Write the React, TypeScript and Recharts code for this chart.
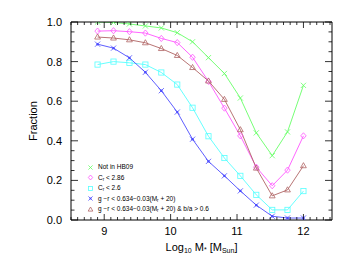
import * as React from 'react';
import { LineChart, Line, XAxis, YAxis, Legend } from 'recharts';

// stellar mass bins (Log10 M*)
const massBins = [8.9, 9.14, 9.38, 9.62, 9.86, 10.1, 10.33, 10.57, 10.81, 11.05, 11.29, 11.53, 11.76, 12.0];

const notInHB09 = [1.0, 0.998, 0.99, 0.98, 0.97, 0.946, 0.9, 0.82, 0.74, 0.616, 0.44, 0.325, 0.445, 0.68];
const crLt286 = [0.954, 0.956, 0.951, 0.944, 0.917, 0.896, 0.822, 0.7, 0.565, 0.425, 0.267, 0.173, 0.252, 0.425];
const crLt26 = [0.785, 0.8, 0.794, 0.785, 0.745, 0.684, 0.567, 0.423, 0.313, 0.223, 0.127, 0.051, 0.051, 0.146];
const grCut = [0.888, 0.868, 0.819, 0.746, 0.653, 0.545, 0.408, 0.296, 0.223, 0.147, 0.075, 0.019, 0.01, 0.01];
const grCutBa = [0.924, 0.919, 0.91, 0.895, 0.866, 0.831, 0.77, 0.702, 0.609, 0.456, 0.262, 0.122, 0.152, 0.274];

const xMajorTicks = [9, 10, 11, 12];
const yMajorTicks = [0, 0.2, 0.4, 0.6, 0.8, 1.0];

const xMinorTicks: number[] = [];
for (let i = 85; i <= 124; i++) xMinorTicks.push(i / 10);
const yMinorTicks: number[] = [];
for (let i = 0; i <= 20; i++) yMinorTicks.push(i / 20);

const FONT = '"Liberation Sans", Arial, sans-serif';

type MarkerKind = 'cross' | 'diamond' | 'square' | 'asterisk' | 'triangle';

const series: { key: string; values: number[]; color: string; marker: MarkerKind }[] = [
  { key: 'notHB09', values: notInHB09, color: '#66ff66', marker: 'cross' },
  { key: 'cr286', values: crLt286, color: '#ff55ff', marker: 'diamond' },
  { key: 'cr26', values: crLt26, color: '#55ffff', marker: 'square' },
  { key: 'gr', values: grCut, color: '#4c4cff', marker: 'asterisk' },
  { key: 'grba', values: grCutBa, color: '#b06464', marker: 'triangle' },
];

const data = massBins.map((m, i) => {
  const row: Record<string, number> = { mass: m };
  series.forEach((s) => (row[s.key] = s.values[i]));
  return row;
});

function Marker({ kind, cx, cy, color, k = 1 }: { kind: MarkerKind; cx: number; cy: number; color: string; k?: number }) {
  const s = 2.6 * k;
  const p = { stroke: color, strokeWidth: 0.8, fill: 'none' };
  if (kind === 'cross')
    return (
      <g {...p}>
        <line x1={cx - s} y1={cy - s} x2={cx + s} y2={cy + s} />
        <line x1={cx - s} y1={cy + s} x2={cx + s} y2={cy - s} />
      </g>
    );
  if (kind === 'diamond')
    return <polygon {...p} points={`${cx},${cy - 3.1 * k} ${cx + 2.7 * k},${cy} ${cx},${cy + 3.1 * k} ${cx - 2.7 * k},${cy}`} />;
  if (kind === 'square') return <rect {...p} x={cx - s} y={cy - s} width={2 * s} height={2 * s} />;
  if (kind === 'triangle')
    return (
      <polygon
        {...p}
        points={`${cx},${cy - 3.1 * k} ${cx + 2.9 * k},${cy + 2 * k} ${cx - 2.9 * k},${cy + 2 * k}`}
      />
    );
  return (
    <g {...p}>
      <line x1={cx - s} y1={cy - s} x2={cx + s} y2={cy + s} />
      <line x1={cx - s} y1={cy + s} x2={cx + s} y2={cy - s} />
      <circle cx={cx} cy={cy} r={1.2 * k} fill={color} stroke="none" />
    </g>
  );
}

const isMajorX = (v: number) => xMajorTicks.some((t) => Math.abs(t - v) < 1e-6);
const isMajorY = (v: number) => yMajorTicks.some((t) => Math.abs(t - v) < 1e-6);

// ticks point inward, like the IDL plot
const BottomTick = (props: any) => {
  const { x, y, payload } = props;
  const major = isMajorX(payload.value);
  return (
    <g>
      <line x1={x} x2={x} y1={y} y2={y - (major ? 6 : 3)} stroke="#000" strokeWidth={0.8} />
      {major && (
        <text x={x} y={y + 15} textAnchor="middle" fontSize={11} fontFamily={FONT} fill="#000">
          {Math.round(payload.value)}
        </text>
      )}
    </g>
  );
};

const TopTick = (props: any) => {
  const { x, y, payload } = props;
  const major = isMajorX(payload.value);
  return <line x1={x} x2={x} y1={y} y2={y + (major ? 6 : 3)} stroke="#000" strokeWidth={0.8} />;
};

const LeftTick = (props: any) => {
  const { x, y, payload } = props;
  const major = isMajorY(payload.value);
  return (
    <g>
      <line x1={x} x2={x + (major ? 7 : 3.5)} y1={y} y2={y} stroke="#000" strokeWidth={0.8} />
      {major && (
        <text x={x - 9} y={y + 4} textAnchor="end" fontSize={11} fontFamily={FONT} fill="#000">
          {payload.value.toFixed(1)}
        </text>
      )}
    </g>
  );
};

const RightTick = (props: any) => {
  const { x, y, payload } = props;
  const major = isMajorY(payload.value);
  return <line x1={x} x2={x - (major ? 7 : 3.5)} y1={y} y2={y} stroke="#000" strokeWidth={0.8} />;
};

const legendLabels: Record<string, React.ReactNode> = {
  notHB09: 'Not in HB09',
  cr286: (
    <>
      C<sub>r</sub> &lt; 2.86
    </>
  ),
  cr26: (
    <>
      C<sub>r</sub> &lt; 2.6
    </>
  ),
  gr: (
    <>
      g −r &lt; 0.634−0.03(M<sub>r</sub> + 20)
    </>
  ),
  grba: (
    <>
      g −r &lt; 0.634−0.03(M<sub>r</sub> + 20) &amp; b/a &gt; 0.6
    </>
  ),
};

const LegendBox = () => (
  <div style={{ fontFamily: FONT, fontSize: 6.5, lineHeight: '10.5px', color: '#000' }}>
    {series.map((s) => (
      <div key={s.key} style={{ display: 'flex', alignItems: 'center', whiteSpace: 'nowrap' }}>
        <svg width={7} height={7} style={{ marginRight: 4 }}>
          <Marker kind={s.marker} cx={3.5} cy={3.5} color={s.color} k={0.8} />
        </svg>
        <span style={{ lineHeight: '10.5px' }}>{legendLabels[s.key]}</span>
      </div>
    ))}
    <style>{`sub{font-size:4.5px;vertical-align:-1px;line-height:0}`}</style>
  </div>
);

export default function App() {
  return (
    <div style={{ position: 'absolute', left: 0, top: 0, width: 353, height: 265, background: '#fff' }}>
      <LineChart
        width={353}
        height={265}
        data={data}
        margin={{ top: 21, right: 20, bottom: 44, left: 70 }}
      >
        <XAxis
          xAxisId="bottom"
          dataKey="mass"
          type="number"
          domain={[8.5, 12.43]}
          allowDataOverflow
          ticks={xMinorTicks}
          interval={0}
          height={1}
          tickSize={0}
          tickMargin={0}
          tick={BottomTick}
          tickLine={false}
          axisLine={{ stroke: '#000', strokeWidth: 1 }}
          label={{
            content: (p: any) => {
              const vb = p.viewBox;
              return (
                <text x={vb.x + vb.width / 2} y={vb.y + 31} textAnchor="middle" fontSize={11} fontFamily={FONT} fill="#000">
                  Log
                  <tspan fontSize={7} dy={2}>10</tspan>
                  <tspan dy={-2}> M</tspan>
                  <tspan fontSize={7} dy={1}>*</tspan>
                  <tspan dy={-1}> [M</tspan>
                  <tspan fontSize={7} dy={2}>Sun</tspan>
                  <tspan dy={-2}>]</tspan>
                </text>
              );
            },
          }}
        />
        <XAxis
          xAxisId="top"
          dataKey="mass"
          type="number"
          orientation="top"
          domain={[8.5, 12.43]}
          allowDataOverflow
          ticks={xMinorTicks}
          interval={0}
          height={1}
          tickSize={0}
          tickMargin={0}
          tick={TopTick}
          tickLine={false}
          axisLine={{ stroke: '#000', strokeWidth: 1 }}
        />
        <YAxis
          yAxisId="left"
          type="number"
          domain={[0, 1.0]}
          allowDataOverflow
          ticks={yMinorTicks}
          interval={0}
          width={1}
          tickSize={0}
          tickMargin={0}
          tick={LeftTick}
          tickLine={false}
          axisLine={{ stroke: '#000', strokeWidth: 1 }}
          label={{
            content: (p: any) => {
              const vb = p.viewBox;
              const cx = vb.x - 33;
              const cy = vb.y + vb.height / 2;
              return (
                <text x={cx} y={cy} transform={`rotate(-90 ${cx} ${cy})`} textAnchor="middle" fontSize={11} fontFamily={FONT} fill="#000">
                  Fraction
                </text>
              );
            },
          }}
        />
        <YAxis
          yAxisId="right"
          orientation="right"
          type="number"
          domain={[0, 1.0]}
          allowDataOverflow
          ticks={yMinorTicks}
          interval={0}
          width={1}
          tickSize={0}
          tickMargin={0}
          tick={RightTick}
          tickLine={false}
          axisLine={{ stroke: '#000', strokeWidth: 1 }}
        />
        <Legend
          layout="horizontal"
          verticalAlign="middle"
          align="center"
          content={<LegendBox />}
          wrapperStyle={{ left: 87, top: 162, width: 'auto' }}
        />
        {series.map((s) => (
          <Line
            key={s.key}
            xAxisId="bottom"
            yAxisId="left"
            dataKey={s.key}
            stroke={s.color}
            strokeWidth={0.9}
            isAnimationActive={false}
            dot={(p: any) => <Marker key={`${s.key}-${p.index}`} kind={s.marker} cx={p.cx} cy={p.cy} color={s.color} />}
            activeDot={false}
          />
        ))}
      </LineChart>
    </div>
  );
}
